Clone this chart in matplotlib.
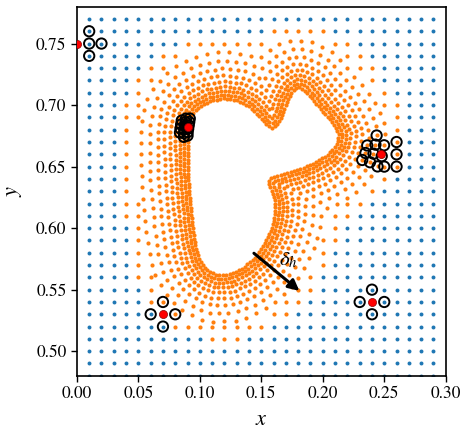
import numpy as np
import matplotlib
matplotlib.use("Agg")
import matplotlib.pyplot as plt
from matplotlib.path import Path
import contourpy

plt.rcParams['font.family'] = 'STIXGeneral'
plt.rcParams['mathtext.fontset'] = 'stix'

# body outline
body_x = [0.0935, 0.0989, 0.1084, 0.1192, 0.1301, 0.1395, 0.1477, 0.1531, 0.1585, 0.1639,
          0.1685, 0.1720, 0.1761, 0.1802, 0.1842, 0.1911, 0.1992, 0.2073, 0.2114, 0.2100,
          0.2033, 0.1924, 0.1789, 0.1653, 0.1558, 0.1539, 0.1572, 0.1598, 0.1593, 0.1558,
          0.1504, 0.1436, 0.1341, 0.1233, 0.1138, 0.1062, 0.1008, 0.0976, 0.0954, 0.0935,
          0.0921, 0.0916, 0.0916]
body_y = [0.6895, 0.6963, 0.7017, 0.7038, 0.7025, 0.6976, 0.6895, 0.6827, 0.6794, 0.6827,
          0.6908, 0.7017, 0.7098, 0.7131, 0.7112, 0.7030, 0.6936, 0.6840, 0.6759, 0.6691,
          0.6610, 0.6542, 0.6488, 0.6447, 0.6414, 0.6371, 0.6297, 0.6203, 0.6094, 0.5972,
          0.5863, 0.5768, 0.5687, 0.5638, 0.5633, 0.5673, 0.5755, 0.5877, 0.6040, 0.6230,
          0.6419, 0.6610, 0.6773]

# background lattice
grid_x = np.round(np.arange(0.01, 0.295, 0.01), 2)
grid_y = np.round(np.arange(0.48, 0.775, 0.01), 2)

# refined layers around the body: distance from surface, spacing along layer
layer_d = [0.0016, 0.0046, 0.0078, 0.0114, 0.0156, 0.0204, 0.0260, 0.0324, 0.0394]
layer_h = [0.0028, 0.0030, 0.0033, 0.0038, 0.0045, 0.0053, 0.0063, 0.0075, 0.0090]
inner_cut = 0.043   # lattice points closer than this are replaced by layers
outer_cut = 0.055   # lattice points closer than this are refined (orange)

# highlighted particles and their search radius
red_x = [0.0, 0.07, 0.24, 0.247, 0.0907]
red_y = [0.75, 0.53, 0.54, 0.660, 0.6818]
red_r = [0.0201, 0.0105, 0.0105, 0.0165, 0.0085]

body = np.column_stack([body_x, body_y])
body_path = Path(np.vstack([body, body[:1]]))


def body_dist(p):
    a = body
    b = np.roll(body, -1, axis=0)
    ab = b - a
    ap = p[:, None, :] - a[None, :, :]
    t = np.clip((ap * ab).sum(-1) / (ab * ab).sum(-1), 0, 1)
    proj = a[None] + t[..., None] * ab[None]
    d = np.hypot(*(p[:, None, :] - proj).transpose(2, 0, 1)).min(axis=1)
    inside = body_path.contains_points(p)
    d[inside] *= -1
    return d


def resample(line, h, shift):
    seg = np.hypot(*np.diff(line, axis=0).T)
    s = np.concatenate([[0], np.cumsum(seg)])
    n = max(int(round(s[-1] / h)), 1)
    t = (np.arange(n) + shift) * s[-1] / n
    return np.column_stack([np.interp(t, s, line[:, 0]), np.interp(t, s, line[:, 1])])


# distance field for layer contours
fx = np.linspace(-0.02, 0.32, 341)
fy = np.linspace(0.44, 0.82, 381)
FX, FY = np.meshgrid(fx, fy)
F = body_dist(np.column_stack([FX.ravel(), FY.ravel()])).reshape(FX.shape)
gen = contourpy.contour_generator(fx, fy, F)

orange = []
for k, (d, h) in enumerate(zip(layer_d, layer_h)):
    for line in gen.lines(d):
        orange.append(resample(line, h, 0.5 * (k % 2)))
orange = np.vstack(orange)

GX, GY = np.meshgrid(grid_x, grid_y)
lattice = np.column_stack([GX.ravel(), GY.ravel()])
ld = body_dist(lattice)
blue = lattice[ld >= outer_cut]
orange = np.vstack([orange, lattice[(ld >= inner_cut) & (ld < outer_cut)]])

allp = np.vstack([blue, orange])

fig = plt.figure(figsize=(4.66, 4.29), dpi=100)
ax = fig.add_axes([0.165, 0.124, 0.7915, 0.8605])

ax.scatter(blue[:, 0], blue[:, 1], s=8, color='#1f77b4', linewidths=0, zorder=2)
ax.scatter(orange[:, 0], orange[:, 1], s=9, color='#ff7f0e', linewidths=0, zorder=2)

for rx, ry, rr in zip(red_x, red_y, red_r):
    dd = np.hypot(allp[:, 0] - rx, allp[:, 1] - ry)
    nb = allp[(dd > 1e-6) & (dd <= rr)]
    ax.scatter(nb[:, 0], nb[:, 1], s=55, facecolors='none', edgecolors='black',
               linewidths=1.4, zorder=3)
ax.scatter(red_x, red_y, s=34, color='red', edgecolors='#8b0000', linewidths=0.5,
           zorder=4, clip_on=True)

ax.annotate('', xy=(0.181, 0.5490), xytext=(0.144, 0.5796),
            arrowprops=dict(arrowstyle='-|>', color='black', lw=2.2, mutation_scale=16,
                            shrinkA=0, shrinkB=0), zorder=5)
ax.text(0.172, 0.574, r'$\delta_h$', fontsize=15, ha='center', va='center', zorder=5)

ax.set_xlim(0, 0.30)
ax.set_ylim(0.48, 0.78)
ax.set_xticks(np.arange(0, 0.31, 0.05))
ax.set_yticks(np.arange(0.50, 0.76, 0.05))
ax.xaxis.set_major_formatter(matplotlib.ticker.FormatStrFormatter('%.2f'))
ax.yaxis.set_major_formatter(matplotlib.ticker.FormatStrFormatter('%.2f'))
ax.tick_params(labelsize=12.5, length=4, width=1)
ax.set_xlabel(r'$x$', fontsize=16, labelpad=6)
ax.set_ylabel(r'$y$', fontsize=16, labelpad=9)
for sp in ax.spines.values():
    sp.set_linewidth(1.2)

fig.savefig('out.png', dpi=100)
